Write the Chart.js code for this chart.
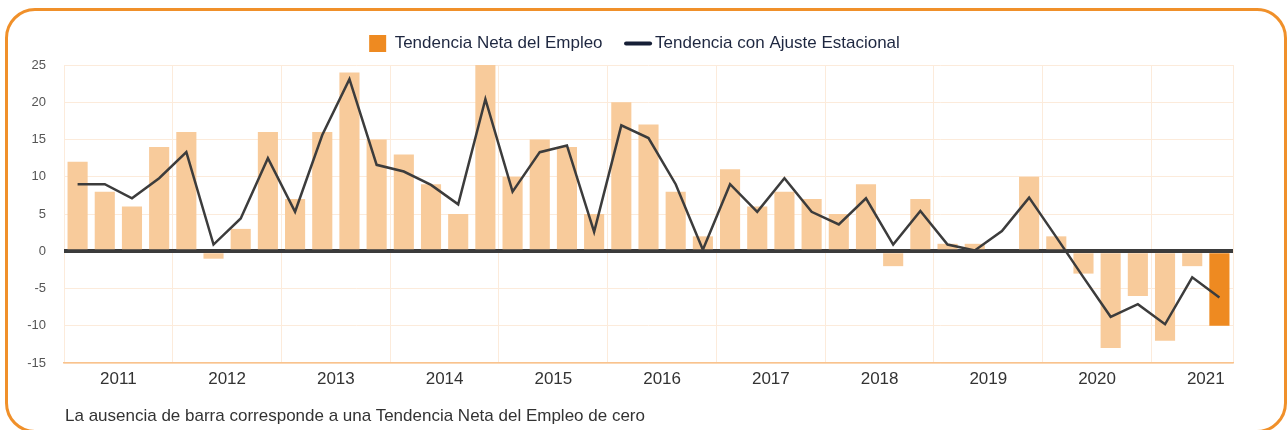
<!DOCTYPE html>
<html lang="es">
<head>
<meta charset="utf-8">
<script src="https://cdn.jsdelivr.net/npm/chart.js"></script>
<style>
    body { margin: 0; background: #fff; }
    .frame {
        position: absolute; left: 5px; top: 8px; width: 1282px; height: 425px;
        box-sizing: border-box; border: 3px solid #f0902a; border-radius: 30px;
    }
    #chart { position: absolute; left: 0; top: 0; }
    .note {
        position: absolute; left: 65px; top: 406px;
        font: 17px 'Liberation Sans', Arial, sans-serif; line-height: 20px; color: #333;
    }
</style>
</head>
<body>
<div class="frame"></div>
<canvas id="chart" width="1288" height="430"></canvas>
<div class="note">La ausencia de barra corresponde a una Tendencia Neta del Empleo de cero</div>
<script>
// Quarterly data, 2011 T1 .. 2021 T3
const years = ['2011', '2012', '2013', '2014', '2015', '2016', '2017', '2018', '2019', '2020', '2021'];
const netTrend = [
    12, 8, 6, 14,
    16, -1, 3, 16,
    7, 16, 24, 15,
    13, 9, 5, 25,
    10, 15, 14, 5,
    20, 17, 8, 2,
    11, 6, 8, 7,
    5, 9, -2, 7,
    1, 1, 0, 10,
    2, -3, -13, -6,
    -12, -2, -10
];
const seasonal = [
    9, 9, 7.1, 9.8,
    13.3, 0.9, 4.4, 12.5,
    5.3, 15.6, 23.1, 11.6,
    10.7, 8.9, 6.3, 20.4,
    8.0, 13.3, 14.2, 2.6,
    16.9, 15.2, 9.0, 0.2,
    9.0, 5.3, 9.8, 5.3,
    3.6, 7.1, 0.9, 5.4,
    0.9, 0.1, 2.7, 7.2,
    1.9, -3.5, -8.8, -7.1,
    -9.8, -3.5, -6.2
];
const yTicks = [-15, -10, -5, 0, 5, 10, 15, 20, 25];

const quarters = years.flatMap(y => ['T1', 'T2', 'T3', 'T4'].map(q => y + ' ' + q)).slice(0, netTrend.length);
const yearCenters = years.map((y, i) => i * 4 + 2);

const LIGHT = '#f8cb9b';
const DARK = '#ee8a21';
const GRID = '#fcebdb';

// legend: shorter block, nudged right to sit where the original one does
const legendTweak = {
    id: 'legendTweak',
    beforeInit(chart) {
        const legend = chart.legend;
        const fit = legend.fit;
        const draw = legend.draw;
        legend.fit = function () {
            fit.call(this);
            this.height = 57;
        };
        legend.draw = function () {
            this.ctx.save();
            this.ctx.translate(18, 0);
            draw.call(this);
            this.ctx.restore();
        };
    }
};

Chart.defaults.font.family = "'Liberation Sans', Arial, sans-serif";

new Chart(document.getElementById('chart'), {
    type: 'bar',
    data: {
        labels: quarters,
        datasets: [
            {
                label: 'Tendencia Neta del Empleo',
                data: netTrend,
                backgroundColor: netTrend.map((v, i) => i === netTrend.length - 1 ? DARK : LIGHT),
                barPercentage: 0.74,
                categoryPercentage: 1,
                order: 1
            },
            {
                type: 'line',
                label: 'Tendencia con Ajuste Estacional',
                data: seasonal,
                borderColor: '#3c3c3c',
                borderWidth: 2.5,
                pointRadius: 0,
                tension: 0,
                order: 0
            }
        ]
    },
    options: {
        responsive: false,
        animation: false,
        layout: { padding: { top: 8, left: 0, right: 55, bottom: 42 } },
        plugins: {
            tooltip: { enabled: false },
            legend: {
                position: 'top',
                labels: {
                    usePointStyle: true,
                    boxHeight: 17,
                    padding: 27,
                    color: '#1e2740',
                    font: { size: 17 },
                    generateLabels: (chart) => {
                        const items = Chart.defaults.plugins.legend.labels.generateLabels(chart);
                        items.sort((a, b) => a.datasetIndex - b.datasetIndex);
                        items.forEach(item => {
                            if (item.datasetIndex === 0) {
                                item.pointStyle = 'rect';
                                item.fillStyle = DARK;
                                item.strokeStyle = DARK;
                                item.lineWidth = 0;
                            } else {
                                item.pointStyle = 'line';
                                item.strokeStyle = '#161f36';
                                item.lineWidth = 4;
                                item.lineCap = 'round';
                            }
                        });
                        return items;
                    }
                }
            }
        },
        scales: {
            x: {
                grid: {
                    drawTicks: false,
                    color: (ctx) => (ctx.index === undefined || ctx.index % 4 === 0) ? GRID : 'rgba(0,0,0,0)'
                },
                border: { color: '#f9c38d', width: 1.5 },
                ticks: { display: false }
            },
            x2: {
                type: 'linear',
                position: 'bottom',
                offset: false,
                min: 0,
                max: netTrend.length,
                grid: { display: false, offset: false },
                border: { display: false },
                afterBuildTicks: (scale) => {
                    scale.ticks = yearCenters.map(v => ({ value: v }));
                },
                ticks: {
                    padding: 0,
                    color: '#333',
                    font: { size: 17, lineHeight: 1 },
                    autoSkip: false,
                    maxRotation: 0,
                    callback: (value, index) => years[index]
                }
            },
            y: {
                min: -15,
                max: 25,
                afterBuildTicks: (scale) => {
                    scale.ticks = yTicks.map(v => ({ value: v }));
                },
                afterFit: (scale) => { scale.width = 64; },
                grid: {
                    drawTicks: false,
                    color: (ctx) => ctx.tick && ctx.tick.value === 0 ? '#3b3b3b' : GRID,
                    lineWidth: (ctx) => ctx.tick && ctx.tick.value === 0 ? 4 : 1
                },
                border: { display: false },
                ticks: {
                    padding: 18,
                    color: '#555',
                    font: { size: 13 }
                }
            }
        }
    },
    plugins: [legendTweak]
});
</script>
</body>
</html>
